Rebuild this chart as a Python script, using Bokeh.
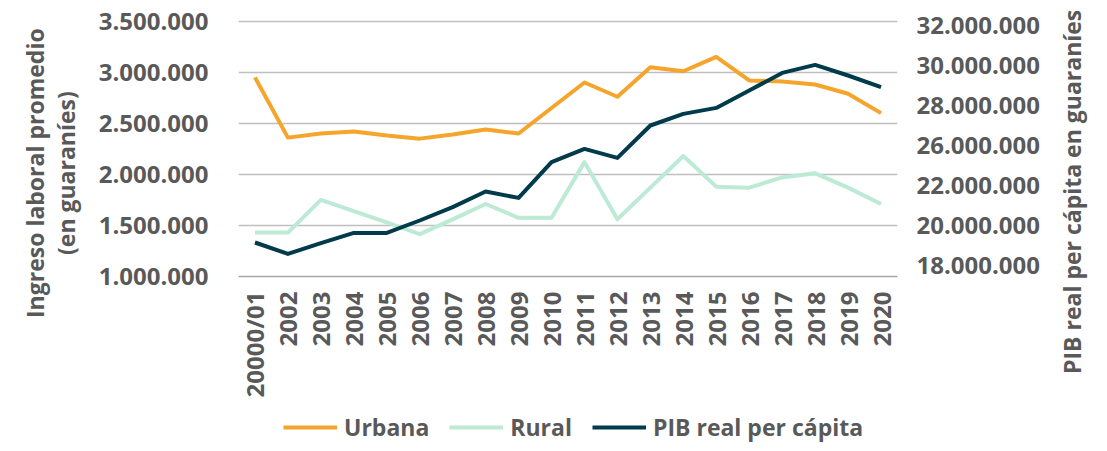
import math
from bokeh.plotting import figure
from bokeh.layouts import column, row
from bokeh.models import FactorRange, Range1d, LinearAxis, FixedTicker, Legend, LegendItem, Div, Spacer
from bokeh.embed import file_html
from bokeh.resources import INLINE

# ---- data ----
categories = ["20000/01", "2002", "2003", "2004", "2005", "2006", "2007", "2008", "2009", "2010",
              "2011", "2012", "2013", "2014", "2015", "2016", "2017", "2018", "2019", "2020"]
urbana = [2950000, 2360000, 2400000, 2420000, 2380000, 2350000, 2390000, 2440000, 2400000, 2650000,
          2900000, 2760000, 3050000, 3010000, 3150000, 2920000, 2910000, 2880000, 2790000, 2600000]
rural = [1430000, 1430000, 1750000, 1640000, 1530000, 1415000, 1560000, 1710000, 1575000, 1575000,
         2120000, 1560000, 1870000, 2180000, 1880000, 1870000, 1970000, 2010000, 1870000, 1710000]
pib = [21150000, 20580000, 21120000, 21630000, 21630000, 22250000, 22920000, 23700000, 23380000, 25170000,
       25830000, 25380000, 27000000, 27580000, 27880000, 28750000, 29630000, 30030000, 29500000, 28920000]

left_ticks = [1000000, 1500000, 2000000, 2500000, 3000000, 3500000]
left_labels = ["1.000.000", "1.500.000", "2.000.000", "2.500.000", "3.000.000", "3.500.000"]
right_ticks = [20000000, 22000000, 24000000, 26000000, 28000000, 30000000, 32000000]
right_labels = ["18.000.000", "20.000.000", "22.000.000", "26.000.000", "28.000.000", "30.000.000", "32.000.000"]

left_title = ["Ingreso laboral promedio", "(en guaraníes)"]
right_title = "PIB real per cápita en guaraníes"
series_names = ["Urbana", "Rural", "PIB real per cápita"]
series_values = [urbana, rural, pib]
colors = ["#F5A42C", "#BDEAD5", "#003B4C"]

FONT = "Open Sans"
TXT = "#595959"
TICK_SIZE = "24px"
TITLE_SIZE = "23px"
LEGEND_SIZE = "23px"
TOTAL_H = 443
BORDER_L, BORDER_R = 156, 160
FRAME_W, FRAME_H = 659, 258
BORDER_T, BORDER_B = 18, 131

p = figure(x_range=FactorRange(*categories), y_range=Range1d(1000000, 3526400),
           frame_width=FRAME_W, frame_height=FRAME_H, output_backend="svg", toolbar_location=None,
           min_border_left=BORDER_L, min_border_right=BORDER_R,
           min_border_top=BORDER_T, min_border_bottom=BORDER_B)
p.extra_y_ranges = {"pib": Range1d(19450000, 32350000)}
p.outline_line_color = None
p.background_fill_color = "white"
p.border_fill_color = "white"

# grid
p.xgrid.grid_line_color = None
p.ygrid.ticker = FixedTicker(ticks=left_ticks)
p.ygrid.grid_line_color = "#BFBFBF"
p.ygrid.grid_line_width = 1.5

# x axis
xa = p.xaxis[0]
xa.major_label_orientation = math.pi / 2
xa.axis_line_color = "#A6A6A6"
xa.axis_line_width = 1.5
xa.major_tick_line_color = None
xa.minor_tick_line_color = None
xa.major_label_standoff = 9
xa.major_label_text_font = FONT
xa.major_label_text_font_style = "bold"
xa.major_label_text_font_size = TICK_SIZE
xa.major_label_text_color = TXT

# left axis
ya = p.yaxis[0]
ya.ticker = FixedTicker(ticks=left_ticks)
ya.major_label_overrides = {t: l for t, l in zip(left_ticks, left_labels)}
ya.axis_line_color = None
ya.major_tick_line_color = None
ya.minor_tick_line_color = None
ya.major_label_standoff = 24
ya.major_label_text_font = FONT
ya.major_label_text_font_style = "bold"
ya.major_label_text_font_size = TICK_SIZE
ya.major_label_text_color = TXT

# right axis
ra = LinearAxis(y_range_name="pib", ticker=FixedTicker(ticks=right_ticks),
                major_label_overrides={t: l for t, l in zip(right_ticks, right_labels)})
ra.axis_line_color = None
ra.major_tick_line_color = None
ra.minor_tick_line_color = None
ra.major_label_standoff = 13
ra.major_label_text_font = FONT
ra.major_label_text_font_style = "bold"
ra.major_label_text_font_size = TICK_SIZE
ra.major_label_text_color = TXT
p.add_layout(ra, "right")

# lines
for vals, c in zip(series_values, colors):
    kw = {"y_range_name": "pib"} if vals is pib else {}
    p.line(categories, vals, line_color=c, line_width=4, line_join="round", **kw)

# legend strip below the chart (its copies of the lines fall outside its own view)
lg = figure(width=BORDER_L + FRAME_W + BORDER_R, height=TOTAL_H - (BORDER_T + FRAME_H + BORDER_B),
            x_range=FactorRange(*categories), y_range=Range1d(0, 1),
            output_backend="svg", toolbar_location=None,
            x_axis_location=None, y_axis_location=None,
            min_border_left=0, min_border_right=0, min_border_top=0, min_border_bottom=0)
lg.outline_line_color = None
lg.xgrid.visible = False
lg.ygrid.visible = False
items = []
for name, vals, c in zip(series_names, series_values, colors):
    r = lg.line(categories, vals, line_color=c, line_width=4)
    items.append(LegendItem(label=name, renderers=[r]))
legend = Legend(items=items, orientation="horizontal", location=(45, 0))
legend.padding = 0
legend.margin = 0
legend.border_line_color = None
legend.background_fill_alpha = 0
legend.glyph_width = 54
legend.glyph_height = 24
legend.label_height = 24
legend.label_standoff = 7
legend.spacing = 20
legend.label_text_font = FONT
legend.label_text_font_style = "bold"
legend.label_text_font_size = LEGEND_SIZE
legend.label_text_color = TXT
lg.add_layout(legend, "center")

# rotated axis titles (read bottom to top)
def title_styles(pad_top):
    return {"writing-mode": "vertical-rl", "transform": "rotate(180deg)", "text-align": "center",
            "font-family": FONT, "font-weight": "bold", "font-size": TITLE_SIZE, "line-height": "31px",
            "color": TXT, "white-space": "nowrap", "box-sizing": "border-box",
            "padding-top": f"{pad_top}px", "overflow": "visible"}

ltitle = Div(text="<br>".join(left_title), width=62, height=TOTAL_H, margin=0, styles=title_styles(97))
rtitle = Div(text=right_title, width=31, height=TOTAL_H, margin=0, styles=title_styles(59))

layout = row(Spacer(width=20, height=TOTAL_H, margin=0), ltitle, column(p, lg), rtitle)
open("out.html", "w").write(file_html(layout, INLINE))
